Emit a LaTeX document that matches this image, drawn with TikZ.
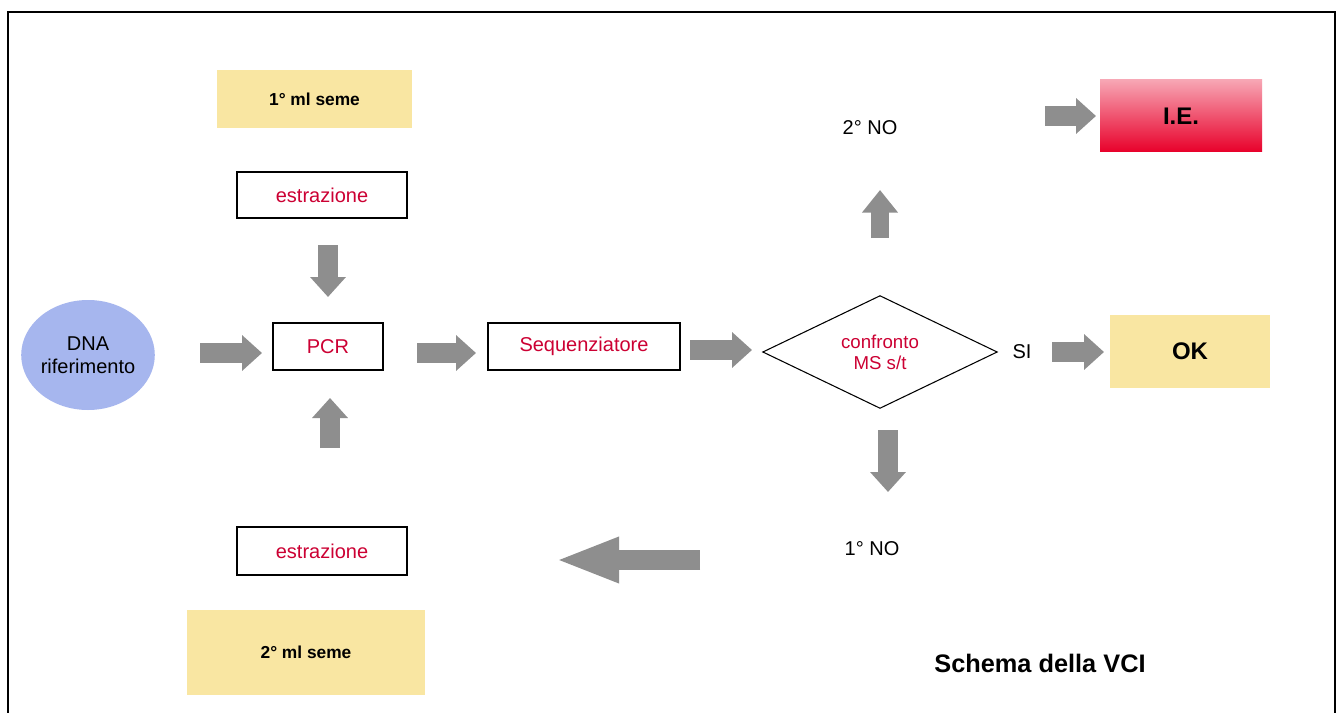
\documentclass[tikz,border=0pt]{standalone}
\usepackage{fontspec}
\setmainfont{Liberation Sans}
\usetikzlibrary{shapes.geometric,arrows.meta}
\definecolor{boxyellow}{HTML}{F9E6A2}
\definecolor{ellblue}{HTML}{A6B6EE}
\definecolor{arrgray}{HTML}{8E8E8E}
\definecolor{txtred}{HTML}{CC0033}
\definecolor{iered}{HTML}{E8002A}
\definecolor{iepink}{HTML}{F7A6B4}
\begin{document}
\begin{tikzpicture}[x=0.75pt,y=-0.75pt,
  redtxt/.style={text=txtred,font=\fontsize{15}{17}\selectfont},
  framebox/.style={draw=black,line width=1.2pt,fill=white,inner sep=0pt,redtxt},
  yellowbox/.style={fill=boxyellow,inner sep=0pt,font=\bfseries\fontsize{13}{15}\selectfont},
  plaintxt/.style={font=\fontsize{15}{17}\selectfont,inner sep=0pt},
  garrow/.style={draw=arrgray,line width=15pt,-{Triangle[width=26pt,length=15pt]}},
  narrow/.style={draw=arrgray,line width=13.5pt,-{Triangle[width=26pt,length=17pt]}},
  bigarrow/.style={draw=arrgray,line width=15pt,-{Triangle[width=31pt,length=48pt]}},
  ]
\useasboundingbox (0,0) rectangle (1337,713);
\fill[white] (0,0) rectangle (1337,713);
% frame
\draw[line width=1.5pt] (8,713) -- (8,12) -- (1335,12) -- (1335,713);

% nodes
\node[yellowbox,minimum width=146.25pt,minimum height=43.5pt] (seme1) at (314.5,99) {1° ml seme};
\node[framebox,minimum width=127.5pt,minimum height=34.5pt] (estr1) at (322,195) {estrazione};
\node[ellipse,fill=ellblue,minimum width=98.25pt,minimum height=82.5pt,inner sep=0pt,
      align=center,font=\fontsize{15}{17}\selectfont] (dna) at (88,355) {DNA\\riferimento};
\node[framebox,minimum width=82.5pt,minimum height=35.25pt] (pcr) at (328,346.5) {PCR};
\node[framebox,minimum width=144pt,minimum height=35.25pt] (seq) at (584,346.5) {Sequenziatore};
\node[diamond,draw=black,line width=0.8pt,minimum width=176pt,minimum height=82.5pt,inner sep=0pt,
      align=center,redtxt,font=\fontsize{14}{16}\selectfont] (conf) at (880,352) {confronto\\MS s/t};
\node[plaintxt] (si) at (1022,352) {SI};
\node[yellowbox,minimum width=120pt,minimum height=54.75pt,font=\bfseries\fontsize{18}{20}\selectfont] (ok) at (1190,351.5) {OK};
\node[plaintxt] (no2) at (870,128) {2° NO};
\node[top color=iepink,bottom color=iered,minimum width=121.5pt,minimum height=54pt,inner sep=0pt,
      font=\bfseries\fontsize{18}{20}\selectfont] (ie) at (1181,116) {I.E.};
\node[plaintxt] (no1) at (872,549) {1° NO};
\node[framebox,minimum width=127.5pt,minimum height=36pt] (estr2) at (322,551) {estrazione};
\node[yellowbox,minimum width=178.5pt,minimum height=63.75pt] (seme2) at (306,652.5) {2° ml seme};
\node[font=\bfseries\fontsize{19}{21}\selectfont,inner sep=0pt] (title) at (1040,663) {Schema della VCI};

% arrow end points
\coordinate (a1s) at (200,353); \coordinate (a1e) at (262,353);
\coordinate (a2s) at (417,353); \coordinate (a2e) at (476,353);
\coordinate (a3s) at (690,350); \coordinate (a3e) at (752,350);
\coordinate (a4s) at (1052,352); \coordinate (a4e) at (1104,352);
\coordinate (a5s) at (1045,116); \coordinate (a5e) at (1096,116);
\coordinate (a6s) at (880,238); \coordinate (a6e) at (880,190);
\coordinate (a7s) at (888,430); \coordinate (a7e) at (888,492);
\coordinate (a8s) at (700,560); \coordinate (a8e) at (555,560);
\coordinate (a9s) at (328,245); \coordinate (a9e) at (328,297);
\coordinate (a10s) at (330,448); \coordinate (a10e) at (330,398);

\draw[garrow] (a1s) -- (a1e);
\draw[garrow] (a2s) -- (a2e);
\draw[garrow] (a3s) -- (a3e);
\draw[garrow] (a4s) -- (a4e);
\draw[garrow] (a5s) -- (a5e);
\draw[narrow] (a6s) -- (a6e);
\draw[garrow] (a7s) -- (a7e);
\draw[bigarrow] (a8s) -- (a8e);
\draw[garrow] (a9s) -- (a9e);
\draw[garrow] (a10s) -- (a10e);
\end{tikzpicture}
\end{document}
